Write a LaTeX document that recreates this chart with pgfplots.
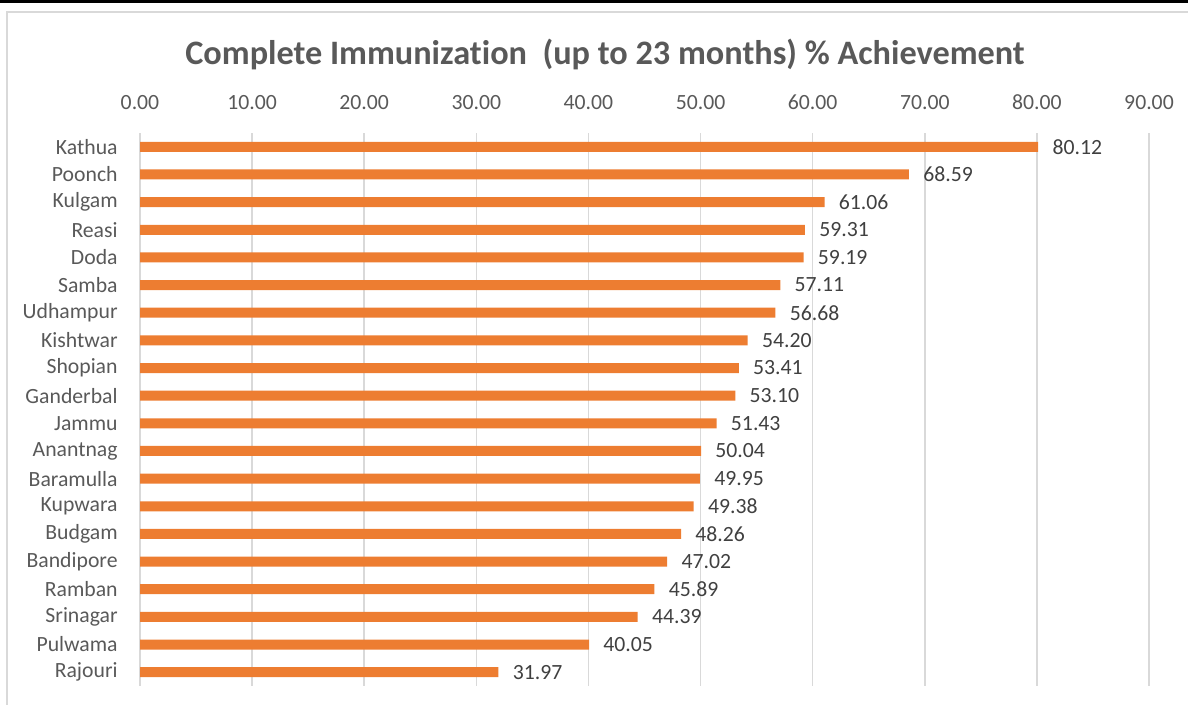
\documentclass[border=0pt]{standalone}
\usepackage{fontspec}
\setmainfont{Carlito}[Ligatures=NoCommon]
\usepackage{pgfplots}
\pgfplotsset{compat=1.18}
\definecolor{barorange}{HTML}{ED7D31}
\definecolor{gridgray}{HTML}{D9D9D9}
\definecolor{txtgray}{HTML}{595959}
\definecolor{lblgray}{HTML}{404040}
\pgfkeys{/pgf/number format/assume math mode=true}

\begin{document}
\begin{tikzpicture}
\path[use as bounding box] (0bp,0bp) rectangle (594bp,352.5bp);
\fill[black] (0bp,351.1bp) rectangle (594bp,352.5bp);
\draw[gridgray, line width=0.9bp] (3.6bp,0bp) -- (3.6bp,346.6bp) -- (594bp,346.6bp);
\node[font=\fontsize{17.2}{20}\selectfont\bfseries, text=txtgray] at (302.5bp,325.5bp)
  {Complete Immunization\ \ (up to 23 months) \% Achievement};
\begin{axis}[
  at={(70bp,286bp)}, anchor=north west,
  scale only axis,
  width=504.5bp, height=276.5bp,
  xmin=0, xmax=90,
  ymin=-0.5, ymax=19.5,
  y dir=reverse,
  xbar, bar width=5bp,
  axis line style={draw=none},
  major tick length=0pt,
  xtick={0,10,...,90},
  xmajorgrids,
  grid style={draw=gridgray, line width=0.75bp},
  xticklabel pos=upper,
  xticklabel={\pgfmathprintnumber[fixed,zerofill,precision=2]{\tick}},
  xticklabel style={font=\fontsize{10.9}{12}\selectfont, text=txtgray,
    anchor=base, inner sep=0pt, yshift=11.75bp},
  ytick={0,...,19},
  yticklabels={Kathua,Poonch,Kulgam,Reasi,Doda,Samba,Udhampur,Kishtwar,Shopian,
    Ganderbal,Jammu,Anantnag,Baramulla,Kupwara,Budgam,Bandipore,Ramban,
    Srinagar,Pulwama,Rajouri},
  yticklabel style={font=\fontsize{10.9}{12}\selectfont, text=txtgray,
    anchor=east, inner sep=0pt, xshift=-11bp},
  point meta=x,
  nodes near coords={\pgfmathprintnumber[fixed,zerofill,precision=2]{\pgfplotspointmeta}},
  nodes near coords style={font=\fontsize{10.9}{12}\selectfont, text=lblgray,
    anchor=west, inner sep=0pt, xshift=7bp},
  clip=false,
]
\addplot[draw=none, fill=barorange] coordinates {
  (80.12,0) (68.59,1) (61.06,2) (59.31,3) (59.19,4)
  (57.11,5) (56.68,6) (54.20,7) (53.41,8) (53.10,9)
  (51.43,10) (50.04,11) (49.95,12) (49.38,13) (48.26,14)
  (47.02,15) (45.89,16) (44.39,17) (40.05,18) (31.97,19)
};
\end{axis}
\end{tikzpicture}
\end{document}
